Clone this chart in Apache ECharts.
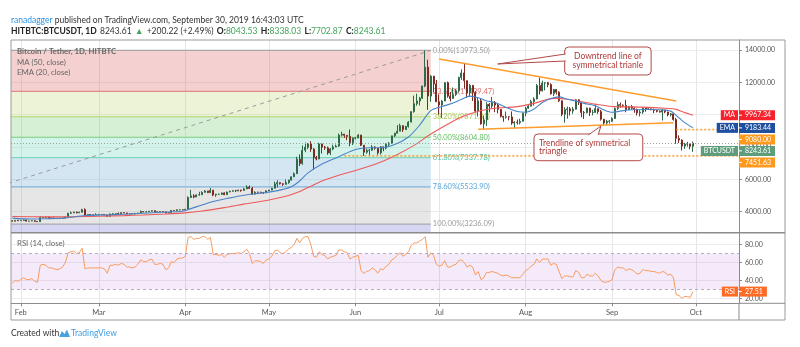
<!DOCTYPE html>
<html>
<head>
<meta charset="utf-8">
<script src="https://cdn.jsdelivr.net/npm/echarts/dist/echarts.min.js"></script>
<style>
  html, body { margin: 0; padding: 0; background: #ffffff; }
  #main { width: 800px; height: 347px; }
</style>
</head>
<body>
<div id="main"></div>
<script>
// ---- Daily BTC/USDT candles (HitBTC, 1D), first candle 2019-01-29 ----
const startDate = '2019-01-29';
const axisDays = 261; // time scale runs on to mid-October

const opens = [
 3445,3410,3465,3440,3465,3490,3415,3420,3445,3390,
 3385,3640,3640,3665,3600,3615,3595,3575,3590,3610,
 3670,3900,3930,3975,3930,3970,4130,3760,3830,3810,
 3820,3825,3830,3830,3795,3710,3860,3870,3880,3860,
 3940,3925,3865,3880,3870,3880,3920,4010,3985,3990,
 4030,4060,3990,3995,4010,3995,3920,3940,4080,4060,
 4120,4120,4110,4150,4880,4980,4910,5040,5050,5200,
 5280,5180,5330,5030,5080,5080,5160,5050,5220,5260,
 5300,5290,5340,5310,5410,5520,5440,5090,5200,5200,
 5180,5160,5290,5340,5450,5720,5800,5730,5690,5800,
 5950,6160,6350,7250,6980,7800,7990,8200,7870,7360,
 7260,8190,7990,7950,7630,7880,8000,8060,8740,8790,
 8720,8660,8280,8550,8560,8740,8110,7680,7790,7800,
 8000,7930,7640,8010,7930,8170,8230,8690,8850,8980,
 9320,9080,9270,9540,10190,10680,10850,11020,11770,12940,
 11150,12380,11900,10800,10600,10840,11980,11150,11000,11250,
 11480,12300,12580,12100,11350,11810,11380,10220,10860,9430,
 9680,10640,10530,10760,10590,10330,9900,9840,9870,9860,
 9480,9540,9510,9590,10090,10400,10530,10820,10970,11800,
 11470,11960,11970,11860,11290,11560,11390,10860,10020,10310,
 10360,10230,10340,10920,10760,10130,10120,10410,10140,10140,
 10370,10190,9720,9490,9590,9600,9760,10380,10620,10580,
 10570,10320,10490,10400,10320,10110,10160,10410,10360,10360,
 10310,10270,10200,10160,10280,10170,9990,10050,9700,8530,
 8430,8060,8180,8200,8043.53
];
const highs = [
 3465,3490,3505,3490,3510,3500,3440,3470,3455,3415,
 3720,3665,3690,3680,3640,3655,3610,3630,3640,3700,
 3930,4010,4000,4010,3995,4180,4210,3860,3850,3840,
 3900,3870,3850,3845,3815,3880,3905,3910,3950,3960,
 3950,3935,3905,3890,3930,3930,4080,4020,4050,4040,
 4080,4080,4010,4020,4015,4000,3950,4090,4085,4140,
 4150,4130,4170,4950,5350,5080,5060,5230,5260,5340,
 5290,5470,5350,5110,5120,5180,5200,5240,5300,5330,
 5350,5360,5350,5470,5630,5620,5530,5270,5240,5240,
 5220,5320,5350,5480,5860,5950,5820,5760,5990,5980,
 6180,6430,7400,7540,8100,8280,8250,8360,7930,7450,
 8260,8200,8070,8030,7930,8140,8150,8830,8950,8810,
 8730,9080,8590,8620,8800,8750,8120,7900,7880,8120,
 8050,7960,8060,8020,8230,8300,8700,8880,9360,9440,
 9340,9310,9600,10200,11180,11300,11100,11800,13973.5,13400,
 12450,12400,12150,11250,10900,11990,12050,11400,11680,11600,
 12350,12800,13200,12110,11900,11840,11450,11080,11020,9950,
 10770,10720,11100,10850,10660,10340,9920,10200,9880,10200,
 9600,9700,9750,10120,10480,10660,10920,11080,11900,12300,
 12100,12000,12030,11940,11590,11580,11450,10880,10460,10500,
 10470,10480,10950,10950,10780,10230,10440,10420,10300,10630,
 10390,10290,9730,9680,9670,9840,10450,10800,10750,10640,
 10920,10550,10600,10460,10380,10280,10450,10440,10420,10390,
 10380,10290,10260,10330,10290,10180,10100,10060,9800,8720,
 8470,8260,8320,8220,8338.03
];
const lows = [
 3395,3400,3435,3425,3440,3400,3395,3410,3375,3375,
 3370,3610,3610,3590,3570,3580,3560,3570,3585,3590,
 3660,3865,3905,3895,3915,3950,3730,3750,3790,3690,
 3800,3815,3800,3780,3700,3705,3835,3855,3830,3855,
 3900,3840,3820,3850,3830,3870,3915,3960,3960,3975,
 4000,3960,3975,3985,3980,3900,3910,3930,4040,4050,
 4080,4095,4090,4145,4850,4830,4900,4990,5040,5180,
 5150,5150,4960,4920,5040,5030,5020,5040,5200,5250,
 5220,5270,5230,5300,5400,5420,5050,5070,5160,5150,
 5110,5150,5280,5330,5440,5500,5680,5600,5680,5720,
 5940,6140,6340,6830,6900,7680,7870,7700,6600,7180,
 7250,7600,7820,7520,7500,7800,7990,8010,8650,8570,
 8420,8050,8120,8470,8540,8060,7451.63,7580,7460,7770,
 7830,7520,7530,7740,7850,8060,8200,8620,8840,8980,
 8930,9050,9200,9530,10120,10550,10570,10970,11700,10300,
 10800,11380,10780,10000,9800,10840,11050,10820,10980,11150,
 11380,12150,11600,11050,11100,10850,10150,9880,9380,9070,
 9300,10140,10380,10150,10080,9830,9560,9750,9650,9370,
 9140,9390,9400,9580,9900,10350,10510,10560,10950,11250,
 11440,11500,11700,11240,11150,11240,10780,9900,9500,9750,
 9950,10050,10320,10600,9840,9740,10080,9920,9960,10130,
 10050,9630,9330,9360,9450,9560,9740,10290,10420,10460,
 10150,10300,10320,10120,9950,9890,10050,10180,10280,10270,
 10090,10140,10130,9640,10090,9900,9890,9630,8200,8250,
 7780,7880,8020,7860,7702.87
];
const closes = [
 3410,3465,3440,3465,3490,3415,3420,3445,3390,3385,
 3640,3640,3665,3600,3615,3595,3575,3590,3610,3670,
 3900,3930,3975,3930,3970,4130,3760,3830,3810,3820,
 3825,3830,3830,3795,3710,3860,3870,3880,3860,3940,
 3925,3865,3880,3870,3880,3920,4010,3985,3990,4030,
 4060,3990,3995,4010,3995,3920,3940,4080,4060,4120,
 4120,4110,4150,4880,4980,4910,5040,5050,5200,5280,
 5180,5330,5030,5080,5080,5160,5050,5220,5260,5300,
 5290,5340,5310,5410,5520,5440,5090,5200,5200,5180,
 5160,5290,5340,5450,5720,5800,5730,5690,5800,5950,
 6160,6350,7250,6980,7800,7990,8200,7870,7360,7260,
 8190,7990,7950,7630,7880,8000,8060,8740,8790,8720,
 8660,8280,8550,8560,8740,8110,7680,7790,7800,8000,
 7930,7640,8010,7930,8170,8230,8690,8850,8980,9320,
 9080,9270,9540,10190,10680,10850,11020,11770,12940,11150,
 12380,11900,10800,10600,10840,11980,11150,11000,11250,11480,
 12300,12580,12100,11350,11810,11380,10220,10860,9430,9680,
 10640,10530,10760,10590,10330,9900,9840,9870,9860,9480,
 9540,9510,9590,10090,10400,10530,10820,10970,11800,11470,
 11960,11970,11860,11290,11560,11390,10860,10020,10310,10360,
 10230,10340,10920,10760,10130,10120,10410,10140,10140,10370,
 10190,9720,9490,9590,9600,9760,10380,10620,10580,10570,
 10320,10490,10400,10320,10110,10160,10410,10360,10360,10310,
 10270,10200,10160,10280,10170,9990,10050,9700,8530,8430,
 8060,8180,8200,8043.39,8243.61
];

// ---- MA (50, close) and EMA (20, close) ----
const maDates = ['2019-01-29','2019-02-10','2019-02-20','2019-03-01','2019-03-10','2019-03-17','2019-03-25',
 '2019-04-01','2019-04-07','2019-04-15','2019-04-22','2019-05-01','2019-05-07','2019-05-12','2019-05-16',
 '2019-05-20','2019-05-26','2019-06-01','2019-06-09','2019-06-15','2019-06-22','2019-06-28','2019-07-05',
 '2019-07-09','2019-07-13','2019-07-17','2019-07-21','2019-07-29','2019-08-04','2019-08-09','2019-08-12',
 '2019-08-16','2019-08-21','2019-08-26','2019-09-02','2019-09-08','2019-09-14','2019-09-20','2019-09-24',
 '2019-09-26','2019-09-28','2019-09-30'];
const maValues = [3700,3680,3690,3720,3760,3800,3860,
 3930,4040,4250,4470,4720,4950,5250,5580,
 5900,6250,6550,7000,7450,8100,8800,9500,
 9850,10100,10290,10400,10500,10700,10950,11010,
 10950,10800,10650,10500,10480,10450,10400,10330,
 10200,10080,9967.34];

const emaDates = ['2019-01-29','2019-02-05','2019-02-10','2019-02-17','2019-02-24','2019-03-03','2019-03-10',
 '2019-03-17','2019-03-24','2019-03-31','2019-04-03','2019-04-07','2019-04-11','2019-04-16','2019-04-22',
 '2019-04-28','2019-05-02','2019-05-06','2019-05-09','2019-05-12','2019-05-15','2019-05-20','2019-05-26',
 '2019-06-01','2019-06-06','2019-06-10','2019-06-15','2019-06-20','2019-06-24','2019-06-28','2019-07-02',
 '2019-07-06','2019-07-09','2019-07-12','2019-07-15','2019-07-18','2019-07-21','2019-07-25','2019-07-29',
 '2019-08-01','2019-08-04','2019-08-07','2019-08-10','2019-08-13','2019-08-16','2019-08-19','2019-08-22',
 '2019-08-26','2019-08-29','2019-09-01','2019-09-05','2019-09-09','2019-09-14','2019-09-19','2019-09-22',
 '2019-09-24','2019-09-26','2019-09-28','2019-09-30'];
const emaValues = [3600,3545,3565,3610,3760,3800,3845,
 3900,3970,4030,4190,4420,4630,4820,5020,
 5150,5240,5380,5540,5900,6400,6950,7400,
 7850,7950,7950,8150,8620,9350,10250,10500,
 10720,10950,11150,11050,10850,10750,10450,10200,
 10150,10350,10750,11000,11100,10950,10850,10700,
 10550,10300,10150,10250,10300,10320,10300,10220,
 9950,9650,9400,9183.44];

// ---- RSI (14, close), one value per candle ----
const rsiValues = [
 37,40,39,
 41,43,41,41,42,39,38,57,58,57,54,54,53,52,53,55,60,71,72,73,70,71,76,53,54,54,54,54,
 54,54,53,48,57,57,58,57,59,58,55,55,54,55,58,63,61,61,63,64,58,58,59,58,52,54,61,60,64,65,65,
 67,88,89,86,87,87,89,89,86,88,69,69,68,69,66,69,70,70,70,71,70,72,75,70,59,62,62,61,59,63,
 64,67,73,74,71,70,72,75,77,80,87,82,87,89,89,80,67,66,72,69,68,64,66,67,68,74,74,72,71,64,66,
 67,68,51,48,50,51,54,52,48,53,52,56,58,63,65,68,71,67,69,72,79,82,82,84,86,89,66,71,68,58,
 56,57,62,55,55,57,58,62,63,60,55,57,55,46,50,41,43,49,49,50,49,48,46,45,46,45,43,43,43,43,47,
 51,53,56,58,64,60,64,64,64,57,59,58,50,42,45,45,44,44,51,49,43,43,47,45,45,48,45,40,38,38,39,
 41,52,55,54,54,51,53,52,50,47,48,52,51,51,50,50,49,48,50,49,46,47,43,24,23,20,22,22,21,27.51
];
const rsiUpper = 70, rsiLower = 30;

// ---- Fibonacci retracement ----
const fibAnchorDates = ['2018-12-12', '2019-06-28'];
const fibLevels = ['0.00%', '23.60%', '38.20%', '50.00%', '61.80%', '78.60%', '100.00%'];
const fibPrices = [13973.50, 11439.47, 9871.81, 8604.80, 7337.78, 5533.90, 3236.09];

// ---- Drawn levels and trend lines ----
const downtrendLine = [['2019-07-01', 13443], ['2019-09-24', 10846]];
const supportLine = [['2019-07-15', 9096], ['2019-09-23', 9504]];
const levelRays = [['2019-09-24', 9080.00], ['2019-05-28', 7451.63]];

const priceTicks = [4000, 6000, 8000, 10000, 12000, 14000];
const rsiTicks = [20, 40, 60, 80];

const callouts = [
  { text: 'Downtrend line of\nsymmetrical trianle', align: 'center',
    tip: ['2019-07-22', 13134], box: ['2019-08-15', 14185, '2019-09-15', 12454], side: 'left', base: [0.25, 0.5] },
  { text: 'Trendline of symmetrical\ntriangle', align: 'left',
    tip: ['2019-08-28', 9300], box: ['2019-08-04', 8805, '2019-09-12', 7153], side: 'top', base: [0.5, 0.59] }
];

// ---------------------------------------------------------------------
const FONT = 'Lato, "Liberation Sans", "Noto Sans", sans-serif';
const DAY = 86400000;
const t0 = Date.parse(startDate + 'T00:00:00Z');
const dayIndex = d => Math.round((Date.parse(d + 'T00:00:00Z') - t0) / DAY);
const MONTHS = ['Jan','Feb','Mar','Apr','May','Jun','Jul','Aug','Sep','Oct','Nov','Dec'];

const days = [];
for (let i = 0; i < axisDays; i++) {
  days.push(new Date(t0 + i * DAY).toISOString().slice(0, 10));
}
const isMonthStart = (idx, val) => val.slice(8) === '01';

const candleData = opens.map((o, i) => [o, closes[i], lows[i], highs[i]]);
const rsiData = rsiValues.slice();
const maData = maDates.map((d, i) => [dayIndex(d), maValues[i]]);
const emaData = emaDates.map((d, i) => [dayIndex(d), emaValues[i]]);

const fibStartX = dayIndex(fibAnchorDates[0]);
const fibEndX = dayIndex(fibAnchorDates[1]);
const fibLine = [[fibStartX, fibPrices[fibPrices.length - 1]], [fibEndX, fibPrices[0]]];

const fibFills = ['rgba(222,100,100,0.30)', 'rgba(192,215,118,0.30)', 'rgba(118,205,118,0.30)',
  'rgba(112,215,185,0.30)', 'rgba(115,172,215,0.30)', 'rgba(172,172,172,0.30)', 'rgba(118,118,215,0.30)'];
const fibStroke = ['#a8a8a8', '#e08a8a', '#b2d46a', '#7ccc7c', '#7fd6bd', '#7fb4dc', '#a9a9b4'];
const fibText = ['#9a9a9a', '#e07070', '#a6c94e', '#5fbf5f', '#4fc2a2', '#5aa6d8', '#9a9a9a'];

const chart = echarts.init(document.getElementById('main'), null, { renderer: 'canvas', width: 800, height: 347 });

const PRICE_TOP = 40, PRICE_H = 192.7, RSI_TOP = 232.7, RSI_H = 70.6;
const AXIS_X = 739, FRAME_R = 785, FRAME_B = 320;

const option = {
  animation: false,
  backgroundColor: '#ffffff',
  textStyle: { fontFamily: FONT },
  grid: [
    { left: 11, right: 800 - AXIS_X, top: PRICE_TOP, height: PRICE_H },
    { left: 11, right: 800 - AXIS_X, top: RSI_TOP, height: RSI_H }
  ],
  xAxis: [
    { type: 'category', gridIndex: 0, data: days, boundaryGap: true,
      axisLine: { show: false }, axisTick: { show: false }, axisLabel: { show: false },
      splitLine: { show: true, interval: isMonthStart, alignWithLabel: true, lineStyle: { color: '#e6e6e6', width: 1 } } },
    { type: 'value', gridIndex: 0, min: -0.5, max: axisDays - 0.5, show: false },
    { type: 'category', gridIndex: 1, data: days, boundaryGap: true,
      axisLine: { show: true, lineStyle: { color: '#8c8c8c' } },
      axisTick: { show: true, interval: isMonthStart, alignWithLabel: true, length: 3, lineStyle: { color: '#8c8c8c' } },
      axisLabel: { interval: isMonthStart, formatter: v => MONTHS[+v.slice(5, 7) - 1], color: '#555',
        fontSize: 7.5, fontFamily: FONT, margin: 5 },
      splitLine: { show: true, interval: isMonthStart, alignWithLabel: true, lineStyle: { color: '#e6e6e6', width: 1 } } },
    { type: 'value', gridIndex: 1, min: -0.5, max: axisDays - 0.5, show: false }
  ],
  yAxis: [
    { type: 'value', gridIndex: 0, position: 'right', min: 2701, max: 14618, scale: true,
      axisLine: { show: true, onZero: false, lineStyle: { color: '#8c8c8c' } },
      axisTick: { show: true, customValues: priceTicks, length: 3, lineStyle: { color: '#8c8c8c' } },
      axisLabel: { customValues: priceTicks, formatter: v => v.toFixed(2), color: '#555', fontSize: 7, fontFamily: FONT, margin: 6 },
      splitLine: { show: true, lineStyle: { color: '#ececec' } } },
    { type: 'value', gridIndex: 1, position: 'right', min: 14.4, max: 93.4, scale: true,
      axisLine: { show: true, onZero: false, lineStyle: { color: '#8c8c8c' } },
      axisTick: { show: true, customValues: rsiTicks, length: 3, lineStyle: { color: '#8c8c8c' } },
      axisLabel: { customValues: rsiTicks, formatter: v => v.toFixed(2), color: '#555', fontSize: 7, fontFamily: FONT, margin: 6 },
      splitLine: { show: true, lineStyle: { color: '#ececec' } } }
  ],
  series: [
    // Fibonacci bands, level lines and level labels
    { type: 'custom', xAxisIndex: 1, yAxisIndex: 0, clip: true, z: 1, silent: true,
      data: fibPrices.map((p, i) => [i]),
      renderItem(params, api) {
        const i = params.dataIndex;
        const cs = params.coordSys;
        const x0 = api.coord([fibStartX, fibPrices[i]])[0];
        const x1 = api.coord([fibEndX, fibPrices[i]])[0];
        const y = api.coord([fibEndX, fibPrices[i]])[1];
        const yNext = i < fibPrices.length - 1 ? api.coord([fibEndX, fibPrices[i + 1]])[1] : cs.y + cs.height;
        return { type: 'group', children: [
          { type: 'rect', shape: { x: x0, y: y, width: x1 - x0, height: yNext - y }, style: { fill: fibFills[i] } },
          { type: 'line', shape: { x1: x0, y1: y, x2: x1, y2: y }, style: { stroke: fibStroke[i], lineWidth: 1.2 } },
          { type: 'text', x: x1 + 2, y: y, style: { text: fibLevels[i] + '(' + fibPrices[i].toFixed(2) + ')',
              fill: fibText[i], fontSize: 7.5, fontFamily: FONT, verticalAlign: 'middle', align: 'left' } }
        ] };
      } },
    // fib diagonal
    { type: 'line', xAxisIndex: 1, yAxisIndex: 0, data: fibLine, showSymbol: false, silent: true, z: 2,
      lineStyle: { color: '#9a9a9a', width: 1, type: [4, 4] } },
    // candles
    { type: 'candlestick', xAxisIndex: 0, yAxisIndex: 0, data: candleData, barWidth: 1.5, z: 3,
      itemStyle: { color: '#4f9b70', color0: '#c8473a', borderColor: '#2f6a48', borderColor0: '#7d2a20', borderWidth: 1 },
      markLine: { silent: true, symbol: 'none', label: { show: false },
        lineStyle: { color: '#9aa3a0', type: [1, 2], width: 1 },
        data: [{ yAxis: closes[closes.length - 1] }] } },
    // MA 50
    { type: 'line', xAxisIndex: 1, yAxisIndex: 0, data: maData, showSymbol: false, smooth: 0.3, silent: true, z: 4,
      lineStyle: { color: '#ee5a5a', width: 1.1 } },
    // EMA 20
    { type: 'line', xAxisIndex: 1, yAxisIndex: 0, data: emaData, showSymbol: false, smooth: 0.3, silent: true, z: 4,
      lineStyle: { color: '#4a84c8', width: 1.1 } },
    // symmetrical triangle sides
    { type: 'line', xAxisIndex: 1, yAxisIndex: 0, data: downtrendLine.map(p => [dayIndex(p[0]), p[1]]),
      showSymbol: false, silent: true, z: 5, lineStyle: { color: '#ff9d2e', width: 1.6 } },
    { type: 'line', xAxisIndex: 1, yAxisIndex: 0, data: supportLine.map(p => [dayIndex(p[0]), p[1]]),
      showSymbol: false, silent: true, z: 5, lineStyle: { color: '#ff9d2e', width: 1.6 } },
    // horizontal level rays
    ...levelRays.map(r => ({ type: 'line', xAxisIndex: 1, yAxisIndex: 0,
      data: [[dayIndex(r[0]), r[1]], [axisDays - 0.5, r[1]]], showSymbol: false, silent: true, z: 5,
      lineStyle: { color: '#ffa235', width: 1.6, type: [2, 2] } })),
    // callouts
    { type: 'custom', xAxisIndex: 1, yAxisIndex: 0, clip: false, z: 8, silent: true,
      data: callouts.map((c, i) => [i]),
      renderItem(params, api) {
        const c = callouts[params.dataIndex];
        const p1 = api.coord([dayIndex(c.box[0]), c.box[1]]);
        const p2 = api.coord([dayIndex(c.box[2]), c.box[3]]);
        const tip = api.coord([dayIndex(c.tip[0]), c.tip[1]]);
        const bx = p1[0], by = p1[1], bw = p2[0] - p1[0], bh = p2[1] - p1[1];
        let a, b;
        if (c.side === 'left') {
          a = [bx + 1, by + bh * c.base[0]]; b = [bx + 1, by + bh * c.base[1]];
        } else {
          a = [bx + bw * c.base[0], by + 1]; b = [bx + bw * c.base[1], by + 1];
        }
        const stroke = '#b34a4a';
        return { type: 'group', children: [
          { type: 'rect', shape: { x: bx, y: by, width: bw, height: bh, r: 4 },
            style: { fill: 'rgba(255,255,255,0.92)', stroke: stroke, lineWidth: 1 } },
          { type: 'polygon', shape: { points: [a, tip, b] }, style: { fill: '#ffffff', stroke: null } },
          { type: 'polyline', shape: { points: [a, tip, b] }, style: { fill: null, stroke: stroke, lineWidth: 1 } },
          { type: 'text', x: c.align === 'center' ? bx + bw / 2 : bx + 5, y: by + bh / 2,
            style: { text: c.text, fill: '#b03b3b', fontSize: 8.5, fontFamily: FONT, lineHeight: 8.5,
              align: c.align, verticalAlign: 'middle' } }
        ] };
      } },
    // RSI
    { type: 'line', xAxisIndex: 2, yAxisIndex: 1, data: rsiData, showSymbol: false, silent: true, z: 4,
      lineStyle: { color: '#f89c5f', width: 1 },
      markArea: { silent: true, itemStyle: { color: 'rgba(160,60,200,0.11)' },
        data: [[{ yAxis: rsiUpper }, { yAxis: rsiLower }]] },
      markLine: { silent: true, symbol: 'none', label: { show: false },
        lineStyle: { color: '#b9a9c4', type: [3, 3], width: 1 },
        data: [{ yAxis: rsiUpper }, { yAxis: rsiLower }] } }
  ]
};

chart.setOption(option);

// ---- axis price tags, chrome and text ----
const measureCtx = document.createElement('canvas').getContext('2d');
function textWidth(t, size, weight) {
  measureCtx.font = (weight || 'normal') + ' ' + size + 'px ' + FONT;
  return measureCtx.measureText(t).width;
}

const priceTags = [
  { name: 'MA', value: maValues[maValues.length - 1], color: '#f5222d' },
  { name: 'EMA', value: emaValues[emaValues.length - 1], color: '#1f4f9f' },
  { name: null, value: levelRays[0][1], color: '#ff9a1f' },
  { name: 'BTCUSDT', value: closes[closes.length - 1], color: '#5e9c7c' },
  { name: null, value: levelRays[1][1], color: '#ff9a1f' }
];

function tagElements(tags, yAxisIndex) {
  const out = [];
  const H = 10, GAP = 1.5, FS = 7;
  const placed = tags.map(t => Object.assign({}, t, { y: chart.convertToPixel({ yAxisIndex }, t.value) }))
    .sort((a, b) => a.y - b.y);
  let prevBottom = -1e9;
  placed.forEach(t => {
    let top = t.y - H / 2;
    if (top < prevBottom + GAP) top = prevBottom + GAP;
    prevBottom = top + H;
    const label = t.value.toFixed(2);
    const w = textWidth(label, FS) + 10;
    out.push({ type: 'rect', z: 20, shape: { x: AXIS_X, y: top, width: w, height: H }, style: { fill: t.color } });
    out.push({ type: 'line', z: 21, shape: { x1: AXIS_X, y1: top + H / 2, x2: AXIS_X + 3, y2: top + H / 2 }, style: { stroke: '#fff', lineWidth: 1 } });
    out.push({ type: 'text', z: 21, x: AXIS_X + 6, y: top + H / 2,
      style: { text: label, fill: '#fff', fontSize: FS, fontFamily: FONT, verticalAlign: 'middle' } });
    if (t.name) {
      const nw = textWidth(t.name, FS) + 6;
      out.push({ type: 'rect', z: 20, shape: { x: AXIS_X - nw - 1, y: top, width: nw, height: H }, style: { fill: t.color } });
      out.push({ type: 'text', z: 21, x: AXIS_X - nw / 2 - 1, y: top + H / 2,
        style: { text: t.name, fill: '#fff', fontSize: FS, fontFamily: FONT, align: 'center', verticalAlign: 'middle' } });
    }
  });
  return out;
}

const green = '#3fa35a';
const header = [
  { type: 'text', x: 11, y: 20, z: 30, style: {
      text: '{u|ranadagger}{t| published on TradingView.com, September 30, 2019 16:43:03 UTC}',
      verticalAlign: 'middle', rich: {
        u: { fill: '#2a93e0', fontSize: 8.5, fontFamily: FONT },
        t: { fill: '#333', fontSize: 8.5, fontFamily: FONT } } } },
  { type: 'text', x: 11, y: 31, z: 30, style: {
      text: '{b|HITBTC:BTCUSDT, 1D} {n|8243.61} {g|▲} {n|+200.22 (+2.49%)} {b|O:}{g|8043.53} {b|H:}{g|8338.03} {b|L:}{g|7702.87} {b|C:}{g|8243.61}',
      verticalAlign: 'middle', rich: {
        b: { fill: '#222', fontSize: 8.5, fontWeight: 'bold', fontFamily: FONT },
        n: { fill: '#333', fontSize: 8.5, fontFamily: FONT },
        g: { fill: green, fontSize: 8.5, fontFamily: FONT } } } }
];

const legends = [
  { type: 'text', x: 17, y: 51.5, z: 30, style: { text: 'Bitcoin / Tether, 1D, HITBTC', fill: '#666', fontSize: 7.8, fontWeight: 'bold', fontFamily: FONT, verticalAlign: 'middle' } },
  { type: 'text', x: 17, y: 62.3, z: 30, style: { text: 'MA (50, close)', fill: '#666', fontSize: 7.8, fontFamily: FONT, verticalAlign: 'middle' } },
  { type: 'text', x: 17, y: 72.8, z: 30, style: { text: 'EMA (20, close)', fill: '#666', fontSize: 7.8, fontFamily: FONT, verticalAlign: 'middle' } },
  { type: 'text', x: 17, y: 243, z: 30, style: { text: 'RSI (14, close)', fill: '#666', fontSize: 7.8, fontFamily: FONT, verticalAlign: 'middle' } }
];

const frame = [
  { type: 'rect', z: 25, shape: { x: 11, y: PRICE_TOP, width: FRAME_R - 11, height: FRAME_B - PRICE_TOP },
    style: { fill: null, stroke: '#9a9a9a', lineWidth: 1 } },
  { type: 'line', z: 25, shape: { x1: 11, y1: RSI_TOP, x2: FRAME_R, y2: RSI_TOP }, style: { stroke: '#8c8c8c', lineWidth: 1.5 } },
  { type: 'line', z: 25, shape: { x1: AXIS_X, y1: RSI_TOP + RSI_H, x2: AXIS_X, y2: FRAME_B }, style: { stroke: '#8c8c8c', lineWidth: 1 } },
  { type: 'line', z: 25, shape: { x1: AXIS_X, y1: RSI_TOP + RSI_H, x2: FRAME_R, y2: RSI_TOP + RSI_H }, style: { stroke: '#8c8c8c', lineWidth: 1 } }
];

const footer = [
  { type: 'text', x: 11, y: 333, z: 30, style: { text: 'Created with', fill: '#333', fontSize: 8.5, fontFamily: FONT, verticalAlign: 'middle' } },
  { type: 'polygon', z: 30, shape: { points: [[59, 337], [62, 331], [64.5, 334], [67, 329.5], [70, 337]] },
    style: { fill: '#4aa3df' } },
  { type: 'text', x: 71, y: 333, z: 30, style: { text: 'TradingView', fill: '#3d9ee0', fontSize: 8.5, fontFamily: FONT, verticalAlign: 'middle' } }
];

const rsiTag = tagElements([{ name: 'RSI', value: rsiValues[rsiValues.length - 1], color: '#ff6a24' }], 1);

chart.setOption({ graphic: [].concat(frame, header, legends, footer, tagElements(priceTags, 0), rsiTag) });
</script>
</body>
</html>
